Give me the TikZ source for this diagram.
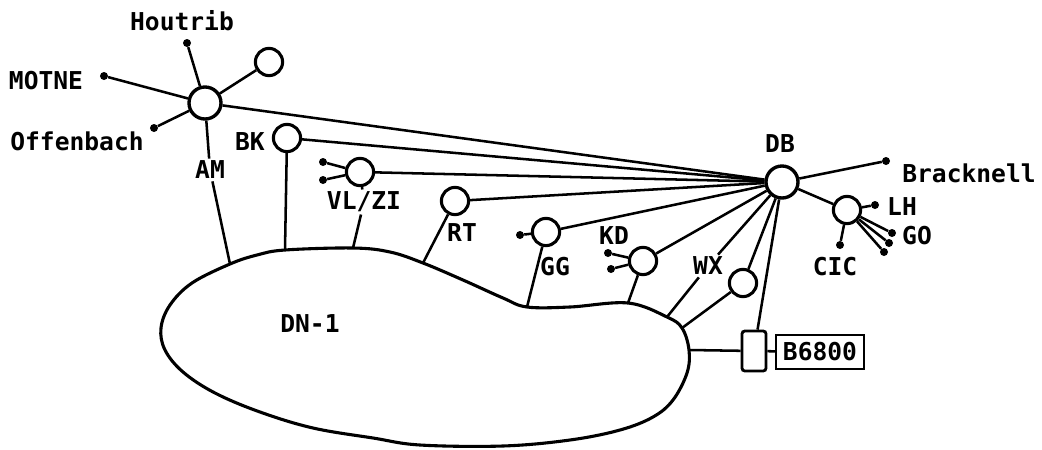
\documentclass[tikz,border=0pt]{standalone}
\usepackage{fontspec}
\setmonofont{DejaVu Sans Mono}
\begin{document}
\begin{tikzpicture}[x=0.025cm,y=-0.025cm,
  every node/.style={font=\ttfamily\bfseries\fontsize{17.5}{20}\selectfont,inner sep=1.5pt},
  hub/.style={circle,draw,line width=2.4pt,minimum size=0.8cm,inner sep=0pt},
  stn/.style={circle,draw,line width=2.2pt,minimum size=0.68cm,inner sep=0pt},
  term/.style={circle,fill,inner sep=0pt,minimum size=0.2cm},
  link/.style={line width=1.8pt}]
\useasboundingbox (0,0) rectangle (1042,449);
% network outline
\coordinate (jAM) at (230,264);
\coordinate (jBK) at (285,250);
\coordinate (jVL) at (353,248);
\coordinate (jRT) at (423,263);
\coordinate (jGG) at (527,307);
\coordinate (jKD) at (628,303);
\coordinate (jWX) at (667,317);
\coordinate (jNN) at (682,328);
\coordinate (jFE) at (689,350);
\draw[line width=2.2pt] plot[smooth cycle,tension=0.6] coordinates {(jAM) (257,255) (jBK) (jVL) (390,252) (jRT) (463,280) (503,298) (jGG) (570,307) (jKD) (jWX) (jNN) (jFE) (687,373) (673,400) (653,417) (620,430) (570,440) (503,446) (420,445) (373,438) (313,428) (260,412) (215,393) (183,372) (165,350) (161,328) (170,305) (192,283)};
\node at (310,324) {DN-1};
% stations
\node[hub] (AM) at (205,103) {};
\node[hub] (DB) at (782,182) {};
\node[stn] (AMx) at (269,62) {};
\node[stn] (BK) at (287,138) {};
\node[stn] (VL) at (360,172) {};
\node[stn] (RT) at (455,201) {};
\node[stn] (GG) at (546,232) {};
\node[stn] (KD) at (643,261) {};
\node[stn] (WXx) at (743,283) {};
\node[stn] (LH) at (847,210) {};
\node[draw,line width=2pt,rounded corners=2pt,minimum width=0.6cm,minimum height=1cm] (FE) at (754,351) {};
\node[draw,line width=1.6pt,minimum width=2.2cm,minimum height=0.85cm,inner sep=1pt] (B68) at (820,352) {B6800};
% labels
\node (Hout) at (182,21) {Houtrib};
\node (MOT) at (46,81) {MOTNE};
\node (Offb) at (77,141) {Offenbach};
\node (lAM) at (210,170) {AM};
\node (lBK) at (250,142) {BK};
\node (lVL) at (364,202) {VL/ZI};
\node (lRT) at (462,233) {RT};
\node (lGG) at (555,267) {GG};
\node (lKD) at (614,236) {KD};
\node (lWX) at (708,266) {WX};
\node (lDB) at (780,144) {DB};
\node (Brack) at (969,173) {Bracknell};
\node (lLH) at (902,207) {LH};
\node (lGO) at (917,236) {GO};
\node (lCIC) at (835,267) {CIC};
% terminals
\node[term] (tHout) at (187,43) {};
\node[term] (tMOT) at (104,76) {};
\node[term] (tOffb) at (154,128) {};
\node[term] (tVL1) at (323,162) {};
\node[term] (tVL2) at (323,180) {};
\node[term] (tGG) at (520,235) {};
\node[term] (tKD1) at (608,253) {};
\node[term] (tKD2) at (611,269) {};
\node[term] (tBrack) at (886,161) {};
\node[term] (tLH) at (875,205) {};
\node[term] (tGO1) at (892,233) {};
\node[term] (tGO2) at (889,243) {};
\node[term] (tGO3) at (884,252) {};
\node[term] (tCIC) at (840,245) {};
% connections
\foreach \t in {tHout,tMOT,tOffb,AMx} \draw[link] (AM) -- (\t);
\foreach \t in {tVL1,tVL2} \draw[link] (VL) -- (\t);
\foreach \t in {tKD1,tKD2} \draw[link] (KD) -- (\t);
\foreach \t in {tLH,tGO1,tGO2,tGO3,tCIC} \draw[link] (LH) -- (\t);
\draw[link] (GG) -- (tGG);
\draw[link] (DB) -- (tBrack);
\draw[link] (DB) -- (LH);
\foreach \t in {AM,BK,VL,RT,GG,KD,WXx,FE} \draw[link] (DB) -- (\t);
\draw[link] (DB) -- (lWX) -- (jWX);
\draw[link] (AM) -- (lAM) -- (jAM);
\draw[link] (VL) -- (lVL) -- (jVL);
\draw[link] (BK) -- (jBK);
\draw[link] (RT) -- (jRT);
\draw[link] (GG) -- (jGG);
\draw[link] (KD) -- (jKD);
\draw[link] (WXx) -- (jNN);
\draw[link] (jFE) -- (FE);
\draw[link] (FE) -- (B68);
\end{tikzpicture}
\end{document}
